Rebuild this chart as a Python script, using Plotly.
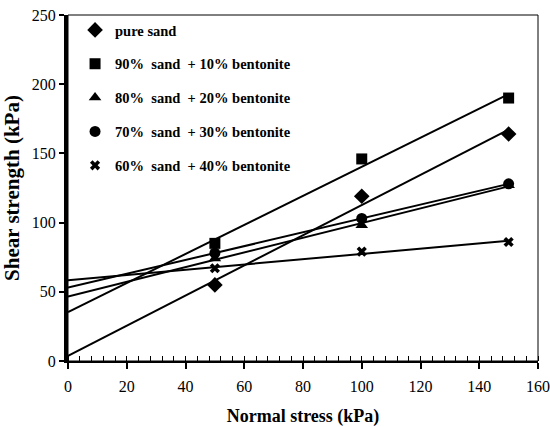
import numpy as np
import plotly.graph_objects as go

normal_stress = [50, 100, 150]
names = ["pure sand",
         "90%\u00a0 sand\u00a0 + 10% bentonite",
         "80%\u00a0 sand\u00a0 + 20% bentonite",
         "70%\u00a0 sand\u00a0 + 30% bentonite",
         "60%\u00a0 sand\u00a0 + 40% bentonite"]
pure_sand = [55, 119, 164]
sand90 = [85, 146, 190]
sand80 = [74, 98, 127]
sand70 = [78, 103, 128]
sand60 = [67, 79, 86]
series = [pure_sand, sand90, sand80, sand70, sand60]
symbols = ["diamond", "square", "triangle-up", "circle", "x"]
sizes = [12, 11, 11, 11, 9]

fig = go.Figure()
for i, (nm, vals, sym, sz) in enumerate(zip(names, series, symbols, sizes)):
    fig.add_trace(go.Scatter(x=normal_stress, y=vals, mode="markers", name=nm,
                             legendgroup=f"g{i}",
                             marker=dict(symbol=sym, size=sz, color="black",
                                         line=dict(width=0))))
for i, vals in enumerate(series):
    slope, icpt = np.polyfit(normal_stress, vals, 1)
    xs = [0, 150]
    fig.add_trace(go.Scatter(x=xs, y=[icpt + slope * v for v in xs], mode="lines",
                             line=dict(color="black", width=2), showlegend=False,
                             hoverinfo="skip"))

font_fam = "Liberation Serif"
fig.update_layout(
    width=550, height=427,
    margin=dict(l=68, r=12, t=15, b=66),
    paper_bgcolor="white", plot_bgcolor="white",
    font=dict(family=font_fam, color="black", size=14),
    legend=dict(x=0.015, y=1.003, xanchor="left", yanchor="top",
                font=dict(family=font_fam, size=14.5, color="black", weight="bold"),
                tracegroupgap=12, bgcolor="rgba(0,0,0,0)"),
    shapes=[dict(type="rect", xref="paper", yref="paper", x0=0, x1=1, y0=0, y1=1,
                 line=dict(color="black", width=1), layer="above")],
)
fig.update_xaxes(range=[0, 160], dtick=20, tick0=0, showgrid=False, zeroline=False,
                 automargin=False,
                 showline=True, linecolor="black", linewidth=2,
                 ticks="outside", ticklen=6, tickwidth=2, tickcolor="black",
                 ticklabelstandoff=4,
                 minor=dict(dtick=4, ticks="inside", ticklen=5, tickwidth=1,
                            tickcolor="black", showgrid=False),
                 tickfont=dict(size=16, family=font_fam),
                 title=dict(text="Normal stress (kPa)", standoff=16,
                            font=dict(size=18, family=font_fam, weight="bold")))
fig.update_yaxes(range=[0, 250], dtick=50, tick0=0, showgrid=False, zeroline=False,
                 automargin=False,
                 showline=True, linecolor="black", linewidth=4,
                 ticks="outside", ticklen=5, tickwidth=2, tickcolor="black",
                 tickfont=dict(size=16, family=font_fam),
                 title=dict(text="Shear strength (kPa)", standoff=8,
                            font=dict(size=21, family=font_fam, weight="bold")))

fig.write_html("out.html")
